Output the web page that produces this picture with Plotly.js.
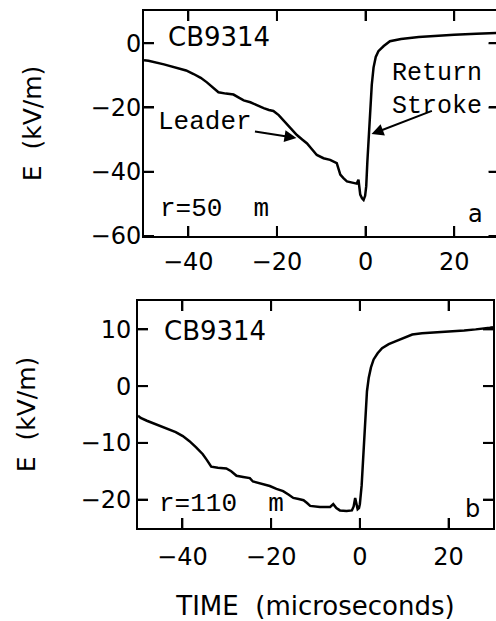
<!DOCTYPE html>
<html>
<head>
<meta charset="utf-8">
<script src="https://cdn.plot.ly/plotly-3.0.1.min.js"></script>
<style>
html,body{margin:0;padding:0;overflow:hidden;background:#fff;}
#chart{width:499px;height:621px;}
</style>
</head>
<body>
<div id="chart"></div>
<script>
// Panel a: r = 50 m
const timeA = [-50,-49,-45.5,-42.6,-40.5,-38.8,-37.2,-35.8,-34.5,-33.2,-31.5,-29.8,-28.5,-27.5,-26,-24.5,-23,-21.8,-20.8,-19.6,-18.5,-17,-15.5,-14.3,-13.2,-12.1,-11,-9.5,-8,-6.5,-6.1,-5.7,-5,-4.2,-3,-2,-1.6,-1.2,-0.8,-0.45,-0.1,0.15,0.4,0.68,0.85,1.05,1.4,1.8,2.3,2.9,4.1,5.5,8,12,16,20,25,30];
const fieldA = [-5.3,-5.5,-6.6,-7.6,-8.5,-9.6,-10.8,-12.2,-13.8,-15.3,-15.7,-16.0,-17.0,-17.8,-18.4,-19.4,-20.2,-20.8,-21.1,-22.4,-24.0,-26.2,-28.6,-30.0,-31.2,-33.0,-34.8,-35.8,-36.3,-37.3,-39.2,-40.9,-42.0,-43.0,-43.4,-43.7,-42.5,-47.1,-48.3,-48.8,-47.5,-44.5,-37,-30.2,-24.5,-19.9,-13,-7.6,-4.3,-2.5,-0.9,0.6,1.3,1.9,2.3,2.6,2.9,3.2];

// Panel b: r = 110 m
const timeB = [-50,-49.4,-48,-46,-44.5,-42.9,-41.5,-39.9,-38.4,-36.9,-35.4,-34.5,-33.5,-32,-30.1,-29,-27.8,-26.3,-24.8,-24.1,-22.2,-20.3,-18.8,-17.3,-16.1,-15,-13.8,-12.7,-11.9,-11.2,-9,-6.7,-6,-5.3,-4.5,-3,-1.8,-1.4,-1.06,-0.8,-0.5,-0.2,0,0.4,0.8,1.2,1.6,2.0,2.5,3.1,4,5,6.5,8,10,11.8,14,16.5,18.6,21,23.5,26.1,28,29.3,30];
const fieldB = [-5.2,-5.6,-6.1,-6.7,-7.1,-7.6,-8.1,-8.8,-9.7,-10.8,-12.0,-13.0,-14.2,-14.4,-14.5,-15.0,-15.8,-16.0,-16.2,-16.8,-17.2,-17.6,-18.1,-18.5,-19.1,-19.7,-19.9,-20.1,-20.6,-21.1,-21.3,-21.3,-20.8,-21.5,-21.9,-22.0,-21.9,-21.2,-19.7,-21.0,-21.7,-21.5,-20.8,-17.5,-12.6,-6.0,-0.9,1.5,3.3,4.7,5.8,6.7,7.4,7.9,8.6,9.1,9.3,9.4,9.5,9.7,9.8,10.0,10.1,10.3,10.4];

const xTicks = [-40,-20,0,20];
const yTicksA = [-60,-40,-20,0];
const yTicksB = [-20,-10,0,10];
const xRange = [-50,30];
const yRangeA = [-60,10];
const yRangeB = [-25,15];
const yTitle = 'E\u00a0\u00a0(kV/m)';
const xTitle = 'TIME\u00a0 (microseconds)';

const W = 499, H = 621;
const TICK_PX = 10;
const tickFont = {family:'DejaVu Sans', size:24, color:'#000'};
const monoFont = {family:'Liberation Mono', size:26, color:'#000'};
const titleFont = {family:'DejaVu Sans', size:25, color:'#000'};

const xDomA = [144/W, 498.5/W], yDomA = [1-236/H, 1-11/H];
const xDomB = [138/W, 493/W],   yDomB = [1-528/H, 1-301/H];

function mainAxis(extra){
  return Object.assign({
    showline:true, linewidth:2, linecolor:'#000', mirror:'ticks',
    ticks:'inside', ticklen:TICK_PX, tickwidth:2, tickcolor:'#000',
    showgrid:false, zeroline:false, tickfont:tickFont, tickmode:'array'
  }, extra);
}

// Inward tick marks on all four sides of a panel, as a line trace on that panel's axes
function tickTrace(xa, ya, xVals, yVals, xR, yR, xDom, yDom){
  const dx = TICK_PX * (xR[1]-xR[0]) / ((xDom[1]-xDom[0]) * W);
  const dy = TICK_PX * (yR[1]-yR[0]) / ((yDom[1]-yDom[0]) * H);
  const xs = [], ys = [];
  xVals.forEach(v => {
    xs.push(v, v, null, v, v, null);
    ys.push(yR[0], yR[0]+dy, null, yR[1], yR[1]-dy, null);
  });
  yVals.forEach(v => {
    xs.push(xR[0], xR[0]+dx, null, xR[1], xR[1]-dx, null);
    ys.push(v, v, null, v, v, null);
  });
  return {x:xs, y:ys, xaxis:xa, yaxis:ya, mode:'lines', connectgaps:false,
          line:{color:'#000', width:2}, hoverinfo:'skip'};
}

const traces = [
  {x:timeA, y:fieldA, xaxis:'x', yaxis:'y', mode:'lines', line:{color:'#000', width:2.5}, hoverinfo:'skip'},
  {x:timeB, y:fieldB, xaxis:'x2', yaxis:'y2', mode:'lines', line:{color:'#000', width:2.5}, hoverinfo:'skip'},
  tickTrace('x','y',xTicks,yTicksA,xRange,yRangeA,xDomA,yDomA),
  tickTrace('x2','y2',xTicks,yTicksB,xRange,yRangeB,xDomB,yDomB)
];

const layout = {
  width:W, height:H,
  margin:{l:0, r:0, t:0, b:0},
  paper_bgcolor:'#fff', plot_bgcolor:'#fff',
  showlegend:false,
  xaxis: mainAxis({domain:xDomA, anchor:'y', range:xRange, tickvals:xTicks, ticklabelstandoff:3}),
  yaxis: mainAxis({domain:yDomA, anchor:'x', range:yRangeA, tickvals:yTicksA, ticklabelstandoff:-4,
          title:{text:yTitle, font:titleFont, standoff:42}}),
  xaxis2: mainAxis({domain:xDomB, anchor:'y2', range:xRange, tickvals:xTicks, ticklabelstandoff:6,
          title:{text:xTitle, font:{family:'DejaVu Sans', size:26, color:'#000'}, standoff:28}}),
  yaxis2: mainAxis({domain:yDomB, anchor:'x2', range:yRangeB, tickvals:yTicksB, ticklabelstandoff:0,
          title:{text:yTitle, font:titleFont, standoff:38}}),
  annotations:[
    {xref:'x', yref:'y', x:-33.0, y:1.8, text:'CB9314', showarrow:false, font:{family:'DejaVu Sans', size:26, color:'#000'}},
    {xref:'x', yref:'y', x:-36.3, y:-24.6, text:'Leader', showarrow:false, font:monoFont},
    {xref:'x', yref:'y', x:16.1, y:-14.5, text:'Return<br>Stroke', showarrow:false, font:{family:'Liberation Mono', size:25, color:'#000'}},
    {xref:'x', yref:'y', x:-34.1, y:-51.7, text:'r=50\u00a0 m', showarrow:false, font:monoFont},
    {xref:'x', yref:'y', x:24.8, y:-53.2, text:'a', showarrow:false, font:tickFont},
    {xref:'x', yref:'y', axref:'x', ayref:'y', x:-15.6, y:-29.5, ax:-25.3, ay:-27.4, text:'', showarrow:true, arrowhead:2, arrowsize:1.2, arrowwidth:2, arrowcolor:'#000', standoff:0},
    {xref:'x', yref:'y', axref:'x', ayref:'y', x:1.35, y:-28.3, ax:15.3, ay:-20.9, text:'', showarrow:true, arrowhead:2, arrowsize:1.2, arrowwidth:2, arrowcolor:'#000', standoff:0},
    {xref:'x2', yref:'y2', x:-32.6, y:9.7, text:'CB9314', showarrow:false, font:{family:'DejaVu Sans', size:26, color:'#000'}},
    {xref:'x2', yref:'y2', x:-31.2, y:-20.7, text:'r=110\u00a0 m', showarrow:false, font:monoFont},
    {xref:'x2', yref:'y2', x:25.4, y:-21.6, text:'b', showarrow:false, font:tickFont}
  ]
};

Plotly.newPlot('chart', traces, layout, {staticPlot:true, displayModeBar:false});
</script>
</body>
</html>
